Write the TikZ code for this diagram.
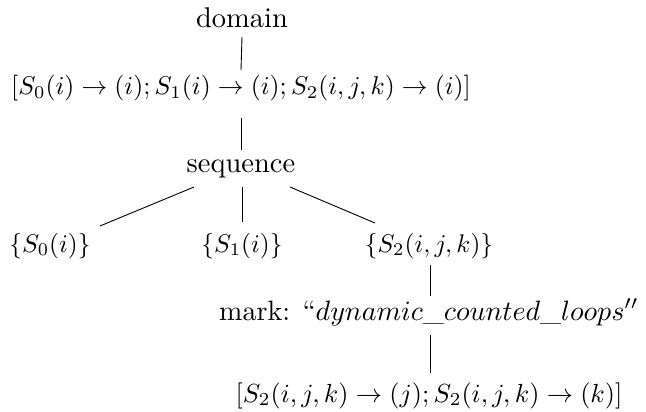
\documentclass[tikz,border=0pt]{standalone}
\begin{document}
\begin{tikzpicture}[x=1pt,y=-1pt,
  lbl/.style={scale=2.55, transform shape, inner sep=0pt, anchor=base},
  txt/.style={lbl, scale=2.85/2.55},
  edge/.style={line width=0.9pt}]
\useasboundingbox (0,0) rectangle (646,412);
\node[txt] (dom) at (242,28) {domain};
\node[lbl, scale=2.57/2.55] (r1) at (241,95) {$[S_0(i)\to(i);S_1(i)\to(i);S_2(i,j,k)\to(i)]$};
\node[txt] (seq) at (241,172) {sequence};
\node[lbl] (s0) at (50,252) {$\{S_0(i)\}$};
\node[lbl] (s1) at (242,252) {$\{S_1(i)\}$};
\node[lbl] (s2) at (429,252) {$\{S_2(i,j,k)\}$};
\node[lbl, scale=2.8/2.55] (mk) at (429,320) {mark: ``$dynamic\_counted\_loops''$};
\node[lbl, scale=2.62/2.55] (bt) at (429,402) {$[S_2(i,j,k)\to(j);S_2(i,j,k)\to(k)]$};
\draw[edge] ([yshift=-9pt]dom.base) -- ([yshift=25pt]r1.base);
\draw[edge] ([yshift=-23pt]r1.base) -- ([yshift=22pt]seq.base);
\draw[edge] ([xshift=-47pt,yshift=-15pt]seq.base) -- ([xshift=50pt,yshift=26pt]s0.base);
\draw[edge] ([xshift=1pt,yshift=-15pt]seq.base) -- ([yshift=30pt]s1.base);
\draw[edge] ([xshift=49pt,yshift=-15pt]seq.base) -- ([xshift=-54pt,yshift=29pt]s2.base);
\draw[edge] ([xshift=1pt,yshift=-13pt]s2.base) -- ([xshift=1pt,yshift=24pt]mk.base);
\draw[edge] ([xshift=1pt,yshift=-15pt]mk.base) -- ([xshift=1pt,yshift=29pt]bt.base);
\end{tikzpicture}
\end{document}
